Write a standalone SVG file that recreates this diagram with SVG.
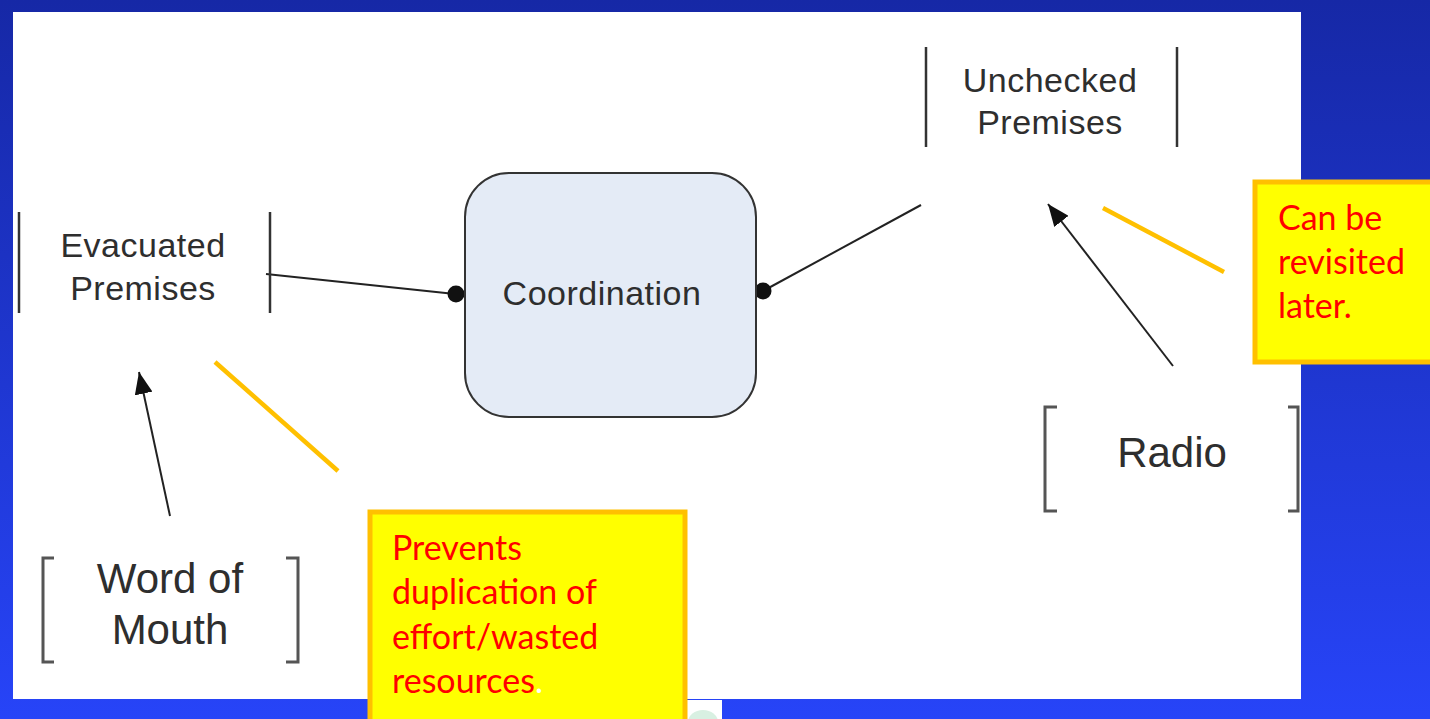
<svg xmlns="http://www.w3.org/2000/svg" width="1430" height="719" viewBox="0 0 1430 719">
  <defs>
    <linearGradient id="bg" x1="0" y1="0" x2="0" y2="1">
      <stop offset="0" stop-color="#1628A6"/>
      <stop offset="1" stop-color="#2744F8"/>
    </linearGradient>
    <marker id="arrow" viewBox="0 0 22 18" refX="22" refY="9" markerWidth="22" markerHeight="18" markerUnits="userSpaceOnUse" orient="auto">
      <path d="M0,0 L22,9 L0,18 Z" fill="#111"/>
    </marker>
    <style>
      .bar { stroke: #333; stroke-width: 2.5; fill: none; }
      .bracket { stroke: #555; stroke-width: 3; fill: none; }
      .label { font-family: "Liberation Sans", Arial, sans-serif; fill: #2e2e2e; text-anchor: middle; }
      .store { font-size: 34px; letter-spacing: 0.5px; }
      .source { font-size: 42px; }
      .link { stroke: #222; stroke-width: 2; fill: none; }
      .dot { fill: #111; }
      .lead { stroke: #FFC000; stroke-width: 4.5; fill: none; }
      .note { fill: #FFFF00; stroke: #FFC000; stroke-width: 5; }
      .note-text { font-family: Lato, "Open Sans", sans-serif; fill: #FF0000; font-size: 34px; }
    </style>
  </defs>

  <!-- slide background and white canvas -->
  <rect x="0" y="0" width="1430" height="719" fill="url(#bg)"/>
  <rect x="13" y="12" width="1288" height="687" fill="#FFFFFF"/>

  <!-- partly hidden logo at the bottom edge -->
  <g id="logo">
    <rect x="687" y="700" width="35" height="19" fill="#FFFFFF"/>
    <ellipse cx="703" cy="722" rx="15" ry="12" fill="#D8F0E2"/>
  </g>

  <!-- connectors -->
  <g id="connectors">
    <line class="link" x1="266" y1="274" x2="455" y2="294"/>
    <circle class="dot" cx="456" cy="294" r="8.5"/>
    <line class="link" x1="763" y1="291" x2="921" y2="205"/>
    <circle class="dot" cx="763" cy="291" r="8.5"/>
    <line class="link" x1="170" y1="516" x2="139" y2="372" marker-end="url(#arrow)"/>
    <line class="link" x1="1173" y1="366" x2="1048" y2="204" marker-end="url(#arrow)"/>
  </g>

  <!-- data stores -->
  <g id="evacuated-premises">
    <line class="bar" x1="19" y1="212" x2="19" y2="313"/>
    <line class="bar" x1="270" y1="212" x2="270" y2="313"/>
    <text class="label store" x="143" y="257">Evacuated</text>
    <text class="label store" x="143" y="300">Premises</text>
  </g>

  <g id="unchecked-premises">
    <line class="bar" x1="926" y1="47" x2="926" y2="147"/>
    <line class="bar" x1="1177" y1="47" x2="1177" y2="147"/>
    <text class="label store" x="1050" y="92">Unchecked</text>
    <text class="label store" x="1050" y="134">Premises</text>
  </g>

  <!-- process -->
  <g id="coordination">
    <rect x="465" y="173" width="291" height="244" rx="44" ry="44" fill="#E4EBF6" stroke="#333" stroke-width="2"/>
    <text class="label store" x="602" y="305">Coordination</text>
  </g>

  <!-- external sources -->
  <g id="word-of-mouth">
    <path class="bracket" d="M54,558 H43 V662 H54"/>
    <path class="bracket" d="M286,558 H298 V662 H286"/>
    <text class="label source" x="170" y="593">Word of</text>
    <text class="label source" x="170" y="644">Mouth</text>
  </g>

  <g id="radio">
    <path class="bracket" d="M1057,407 H1045 V511 H1057"/>
    <path class="bracket" d="M1288,407 H1298 V511 H1288"/>
    <text class="label source" x="1172" y="467">Radio</text>
  </g>

  <!-- callout notes -->
  <g id="note-revisit">
    <line class="lead" x1="1103" y1="208" x2="1224" y2="272"/>
    <rect class="note" x="1255" y="182" width="185" height="180"/>
    <text class="note-text" x="1278" y="230">Can be</text>
    <text class="note-text" x="1278" y="274">revisited</text>
    <text class="note-text" x="1278" y="318">later.</text>
  </g>

  <g id="note-duplication">
    <line class="lead" x1="215" y1="362" x2="338" y2="471"/>
    <rect class="note" x="370" y="512" width="315" height="220"/>
    <text class="note-text" x="392" y="560">Prevents</text>
    <text class="note-text" x="392" y="604">duplication of</text>
    <text class="note-text" x="392" y="649">effort/wasted</text>
    <text class="note-text" x="392" y="693">resources<tspan fill="#FFFFFF">.</tspan></text>
  </g>
</svg>
